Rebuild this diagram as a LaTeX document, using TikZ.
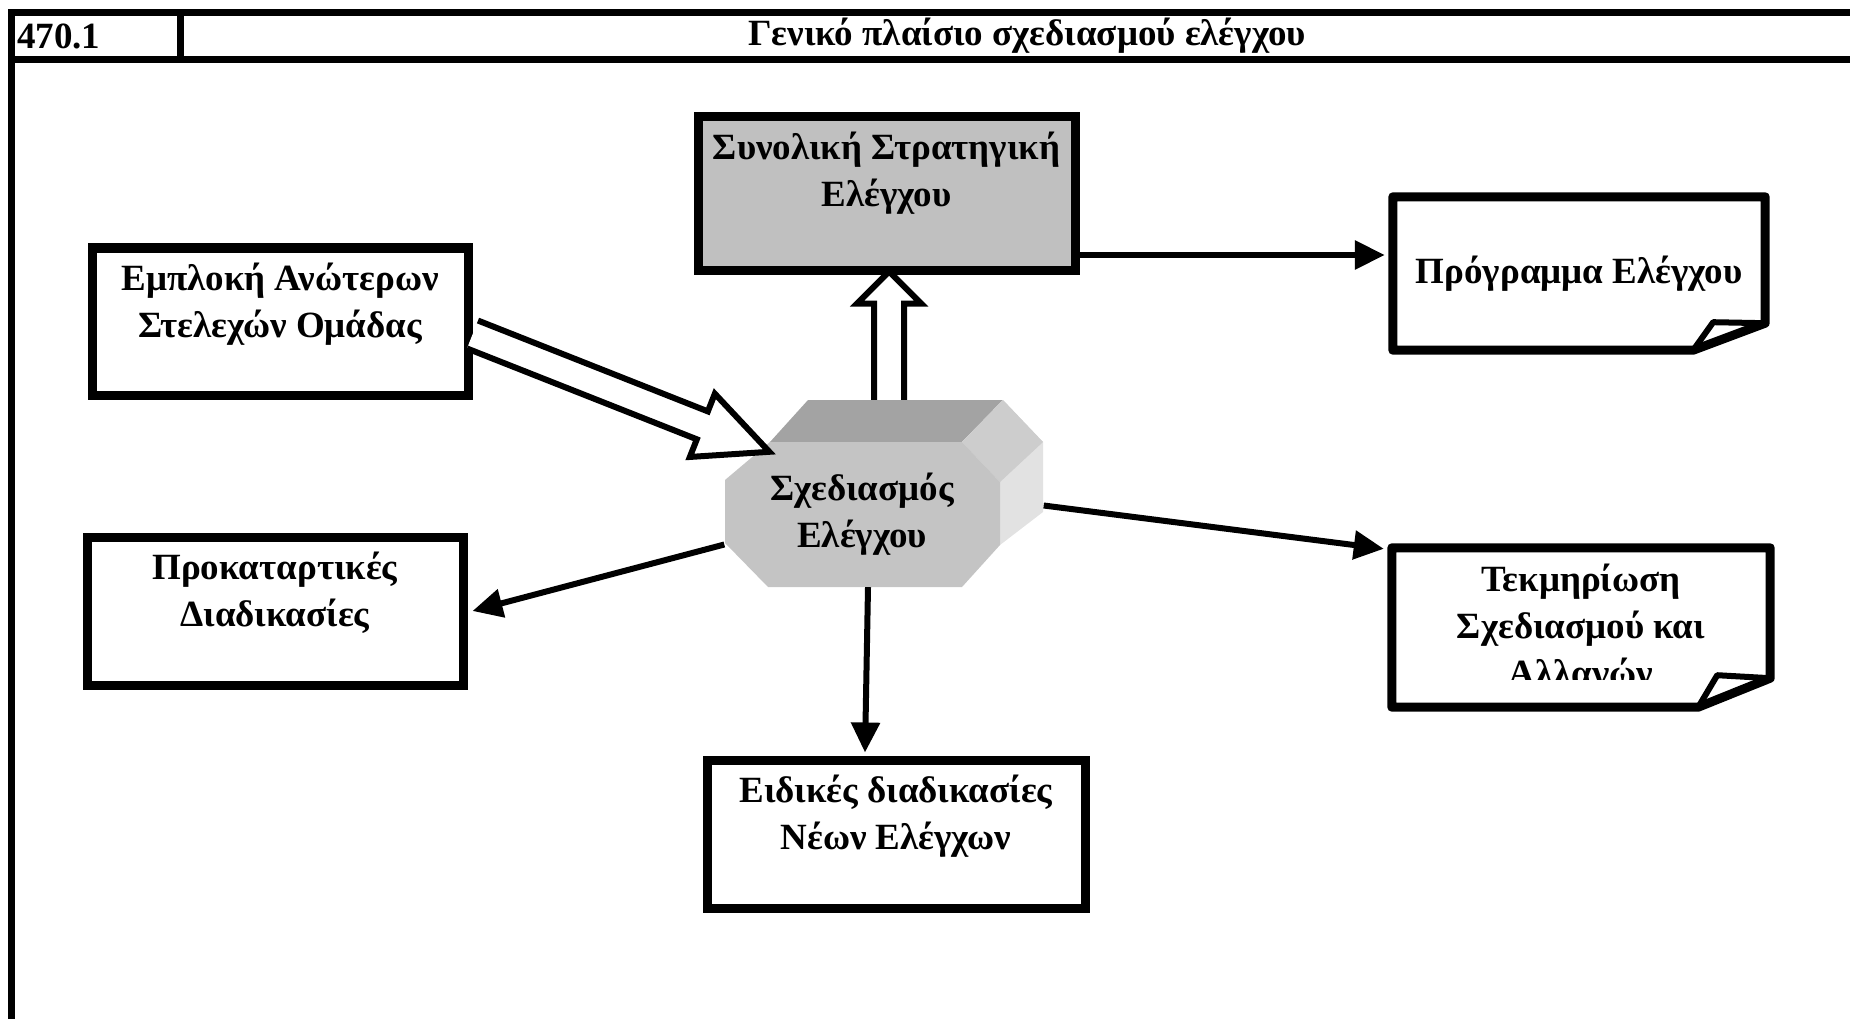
\documentclass[tikz,border=0pt]{standalone}
\usepackage{fontspec}
\setmainfont{Liberation Serif}
\usetikzlibrary{arrows.meta,positioning,calc}

\definecolor{stratgray}{HTML}{C0C0C0}
\definecolor{topgray}{HTML}{A3A3A3}
\definecolor{frontgray}{HTML}{C4C4C4}
\definecolor{sidedark}{HTML}{CDCDCD}
\definecolor{sidelight}{HTML}{E2E2E2}

\tikzset{
  blok/.style={draw, line width=9pt, minimum width=376pt, minimum height=148pt, inner sep=0pt},
  notebox/.style={minimum width=372pt, minimum height=153pt, inner sep=0pt},
  noteline/.style={line width=9pt, line join=round},
  txt/.style={align=center, inner sep=0pt, font=\bfseries\fontsize{37}{47}\selectfont},
  conn/.style={line width=6pt, -{Triangle[length=30pt,width=28pt]}},
  hollow/.style 2 args={fill=white, draw=black, line width=6pt,
    to path={let \p1=(\tikztostart), \p2=(\tikztotarget),
      \n1={atan2(\y2-\y1,\x2-\x1)} in
      ($(\p1)+(\n1+90:15pt)$) -- ($(\p2)+(\n1+180:#1)+(\n1+90:15pt)$)
      -- ($(\p2)+(\n1+180:#1)+(\n1+90:#2)$) -- (\p2)
      -- ($(\p2)+(\n1+180:#1)+(\n1-90:#2)$)
      -- ($(\p2)+(\n1+180:#1)+(\n1-90:15pt)$)
      -- ($(\p1)+(\n1-90:15pt)$)}}
}

\begin{document}
\begin{tikzpicture}[x=1pt, y=-1pt]
  \useasboundingbox (0,0) rectangle (1850,1019);

  % frame and header
  \draw[line width=7pt] (1850,13) -- (11,13) -- (11,1019);
  \draw[line width=7pt] (11,60) -- (1850,60);
  \draw[line width=7pt] (180,13) -- (180,60);
  \node[txt, anchor=west] (nr) at (17,36) {470.1};
  \node[txt] (titel) at (1027,36) {Γενικό πλαίσιο σχεδιασμού ελέγχου};

  % the prism
  \fill[topgray] (770,442) -- (808,400) -- (1003,400) -- (962,442) -- cycle;
  \fill[sidelight] (962,442) -- (1003,400) -- (1043,442) -- (1043,512) -- (1000,545) -- (1000,482) -- cycle;
  \fill[sidedark] (962,442) -- (1003,400) -- (1043,442) -- (1000,482) -- cycle;
  \fill[frontgray] (770,442) -- (962,442) -- (1000,482) -- (1000,545) -- (962,587)
    -- (768,587) -- (725,543) -- (725,480) -- cycle;
  \node[txt, minimum width=275pt, minimum height=145pt] (plan) at (862,514.5) {Σχεδιασμός\\Ελέγχου};

  % boxes
  \node[blok, fill=stratgray, minimum width=377pt, minimum height=153pt] (strat) at (886.5,193.5) {};
  \node[txt, below=19pt of strat.north] (strattxt) {Συνολική Στρατηγική\\Ελέγχου};
  \node[blok, minimum height=147pt] (emp) at (280,321.5) {};
  \node[txt, below=19pt of emp.north] (emptxt) {Εμπλοκή Ανώτερων\\Στελεχών Ομάδας};
  \node[blok] (prok) at (275,611) {};
  \node[txt, below=19pt of prok.north] (proktxt) {Προκαταρτικές\\Διαδικασίες};
  \node[blok, minimum width=378pt] (eid) at (896,834) {};
  \node[txt, below=19pt of eid.north] (eidtxt) {Ειδικές διαδικασίες\\Νέων Ελέγχων};

  % notes with a folded corner
  \node[notebox, txt] (prog) at (1579,273.5) {Πρόγραμμα Ελέγχου};
  \draw[noteline] (prog.north west) -- (prog.north east) -- ([yshift=27pt]prog.south east)
    -- ([xshift=-72pt]prog.south east) -- (prog.south west) -- cycle;
  \draw[line width=6pt, line join=round] ([xshift=-72pt]prog.south east)
    -- ([xshift=-52pt,yshift=28pt]prog.south east) -- ([yshift=27pt]prog.south east);

  \node[notebox, minimum width=378pt, minimum height=159pt] (tek) at (1581,627.5) {};
  \begin{scope}
    \clip (1390,550) rectangle (1772,679);
    \node[txt, below=16pt of tek.north] (tektxt) {Τεκμηρίωση\\Σχεδιασμού και\\Αλλαγών};
  \end{scope}
  \draw[noteline] (tek.north west) -- (tek.north east) -- ([yshift=29pt]tek.south east)
    -- ([xshift=-72pt]tek.south east) -- (tek.south west) -- cycle;
  \draw[line width=6pt, line join=round] ([xshift=-72pt]tek.south east)
    -- ([xshift=-53pt,yshift=32pt]tek.south east) -- ([yshift=29pt]tek.south east);

  % connectors
  \draw[hollow={32pt}{32pt}] ([xshift=27pt,yshift=42pt]plan.north) to ([xshift=2.5pt,yshift=3pt]strat.south);
  \draw[hollow={72pt}{34pt}] ([yshift=-13pt]emp.east) to ([xshift=45pt,yshift=-10pt]plan.north west);
  \draw[conn] ([yshift=-61.5pt]strat.east) -- ([xshift=-8pt,yshift=18.5pt]prog.west);
  \draw[conn] ([yshift=-30pt]plan.west) -- ([xshift=5pt]prok.east);
  \draw[conn] ([xshift=44pt,yshift=9pt]plan.east) -- ([xshift=-8pt,yshift=-1pt]tek.north west);
  \draw[conn] ([xshift=6pt]plan.south) -- ([xshift=-31pt,yshift=3pt]eid.north);
\end{tikzpicture}
\end{document}
